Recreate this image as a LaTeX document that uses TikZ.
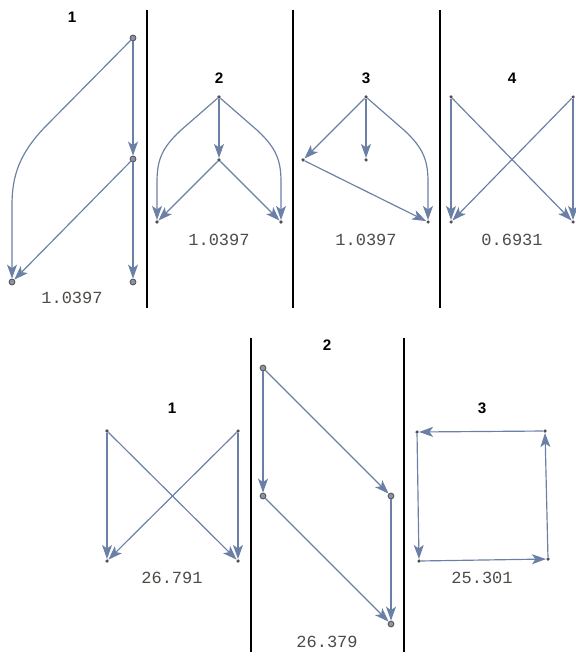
\documentclass[tikz,border=0pt]{standalone}
\usepackage{fontspec}
\setsansfont{Liberation Sans}
\setmonofont{Liberation Mono}
\usepackage{tikz}
\usetikzlibrary{arrows.meta}
\definecolor{edgeblue}{RGB}{106,128,166}
\definecolor{vtxgray}{RGB}{140,148,162}
\definecolor{vtxdark}{RGB}{80,80,84}
\definecolor{numgray}{RGB}{78,74,70}

\begin{document}
\begin{tikzpicture}[x=0.03cm, y=-0.03cm,
      big/.style={circle, draw=vtxdark, fill=vtxgray, line width=0.7pt,
                  inner sep=0pt, minimum size=5pt},
      dot/.style={circle, fill=vtxdark, inner sep=0pt, minimum size=3pt},
      arc/.style={draw=edgeblue, line width=1pt,
                  -{Stealth[length=12pt, width=8.5pt, inset=3pt]}},
      ttl/.style={font=\sffamily\bfseries\fontsize{13}{13}\selectfont},
      val/.style={font=\ttfamily\fontsize{14.5}{14.5}\selectfont, text=numgray}
  ]
    \useasboundingbox (0,0) rectangle (575,656);
    % separators
    \foreach \x in {147,293,440}
      \draw[line width=0.9pt] (\x,10) -- (\x,308);
    \foreach \x in {251,404}
      \draw[line width=0.9pt] (\x,338) -- (\x,652);

    % top row, panel 1
    \node[ttl] (t1) at (72,17) {1};
    \node[big] (a1) at (133,38) {};
    \node[big] (a2) at (133,159) {};
    \node[big] (a3) at (12,282) {};
    \node[big] (a4) at (133,282) {};
    \draw[arc] (a1) -- (a2);
    \draw[arc] (a1) -- (45,127) .. controls (20,153) and (12,175) .. (12,205) -- (a3);
    \draw[arc] (a2) -- (a3);
    \draw[arc] (a2) -- (a4);
    \node[val] (v1) at (72,298) {1.0397};

    % top row, panel 2
    \node[ttl] (t2) at (219,78) {2};
    \node[dot] (b1) at (219,97) {};
    \node[dot] (b2) at (219,160) {};
    \node[dot] (b3) at (157,222) {};
    \node[dot] (b4) at (281,222) {};
    \draw[arc] (b1) -- (b2);
    \draw[arc] (b1) -- (180,131) .. controls (162,148) and (157,160) .. (157,182) -- (b3);
    \draw[arc] (b1) -- (258,131) .. controls (276,148) and (281,160) .. (281,182) -- (b4);
    \draw[arc] (b2) -- (b3);
    \draw[arc] (b2) -- (b4);
    \node[val] (v2) at (219,240) {1.0397};

    % top row, panel 3
    \node[ttl] (t3) at (366,78) {3};
    \node[dot] (c1) at (366,97) {};
    \node[dot] (c2) at (366,160) {};
    \node[dot] (c3) at (303,160) {};
    \node[dot] (c4) at (428,222) {};
    \draw[arc] (c1) -- (c3);
    \draw[arc] (c1) -- (c2);
    \draw[arc] (c1) -- (405,131) .. controls (423,148) and (428,160) .. (428,182) -- (c4);
    \draw[arc] (c3) -- (c4);
    \node[val] (v3) at (366,240) {1.0397};

    % top row, panel 4
    \node[ttl] (t4) at (512,78) {4};
    \node[dot] (d1) at (451,97) {};
    \node[dot] (d2) at (573,97) {};
    \node[dot] (d3) at (451,222) {};
    \node[dot] (d4) at (573,222) {};
    \draw[arc] (d1) -- (d3);
    \draw[arc] (d1) -- (d4);
    \draw[arc] (d2) -- (d3);
    \draw[arc] (d2) -- (d4);
    \node[val] (v4) at (512,240) {0.6931};

    % bottom row, panel 1
    \node[ttl] (u1) at (172,408) {1};
    \node[dot] (e1) at (107,431) {};
    \node[dot] (e2) at (238,431) {};
    \node[dot] (e3) at (107,561) {};
    \node[dot] (e4) at (238,561) {};
    \draw[arc] (e1) -- (e3);
    \draw[arc] (e1) -- (e4);
    \draw[arc] (e2) -- (e3);
    \draw[arc] (e2) -- (e4);
    \node[val] (w1) at (172,578) {26.791};

    % bottom row, panel 2
    \node[ttl] (u2) at (327,345) {2};
    \node[big] (f1) at (263,368) {};
    \node[big] (f2) at (263,496) {};
    \node[big] (f3) at (391,496) {};
    \node[big] (f4) at (391,624) {};
    \draw[arc] (f1) -- (f2);
    \draw[arc] (f1) -- (f3);
    \draw[arc] (f2) -- (f4);
    \draw[arc] (f3) -- (f4);
    \node[val] (w2) at (327,642) {26.379};

    % bottom row, panel 3
    \node[ttl] (u3) at (482,408) {3};
    \node[dot] (g1) at (417,432) {};
    \node[dot] (g2) at (545,431) {};
    \node[dot] (g3) at (419,561) {};
    \node[dot] (g4) at (548,559) {};
    \draw[arc] (g2) -- (g1);
    \draw[arc] (g1) -- (g3);
    \draw[arc] (g3) -- (g4);
    \draw[arc] (g4) -- (g2);
    \node[val] (w3) at (482,578) {25.301};
  \end{tikzpicture}
\end{document}
